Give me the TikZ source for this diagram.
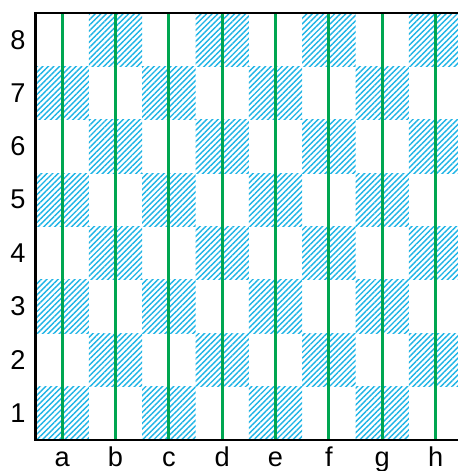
\documentclass[tikz,border=0pt]{standalone}
\usepackage{fontspec}
\setmainfont{Liberation Sans}
\usetikzlibrary{patterns.meta}
\definecolor{hatchcyan}{RGB}{30,180,230}
\definecolor{filegreen}{RGB}{0,166,81}

\begin{document}
\begin{tikzpicture}[
  hatched/.style={pattern={Lines[angle=45, distance=2.1pt, line width=0.75pt]}, pattern color=hatchcyan},
  coordlabel/.style={font=\fontsize{14.5}{17}\selectfont, inner sep=0pt}]
\fill[white] (-0.665,-0.585) rectangle (7.92,8.244);
\clip (-0.665,-0.585) rectangle (7.92,8.244);
% dark squares
\foreach \i in {0,...,7}
  \foreach \j in {0,...,7} {
    \pgfmathtruncatemacro{\sqcol}{mod(\i+\j,2)}
    \ifnum\sqcol=0 \fill[hatched] (\i,\j) rectangle ++(1,1); \fi
  }
% file lines
\foreach \i in {0,...,7}
  \draw[filegreen, line width=1.5pt] (\i+0.5,0) -- (\i+0.5,8);
% board edge
\draw[line width=1.3pt] (8.5,8) -- (0,8) -- (0,0) -- (8.5,0);
% ranks and files
\foreach \j in {1,...,8}
  \node[coordlabel] (rank\j) at (-0.33,\j-0.5) {\j};
\foreach \f [count=\i from 0] in {a,b,c,d,e,f,g,h}
  \node[coordlabel, anchor=base] (file\f) at (\i+0.5,-0.5) {\f};
\end{tikzpicture}
\end{document}
